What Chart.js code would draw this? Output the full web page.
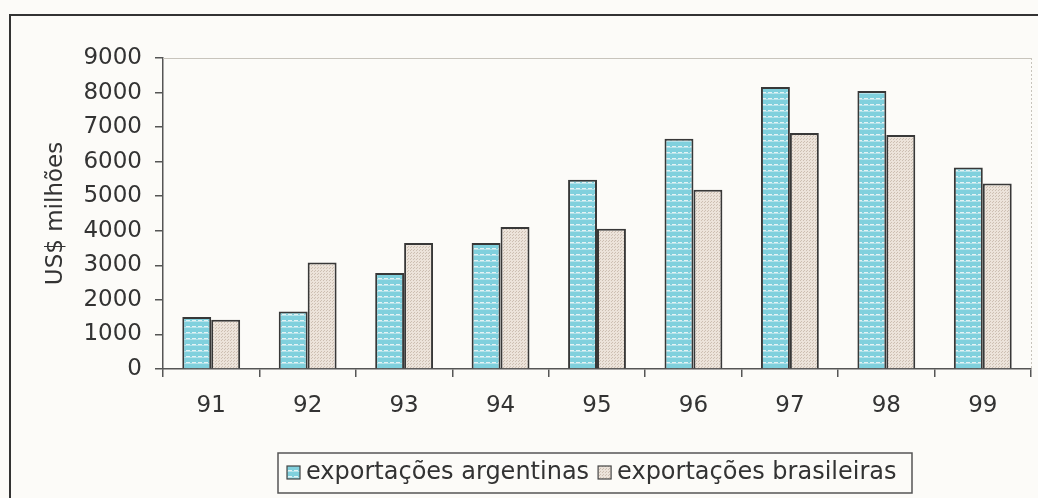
<html><head>
<meta charset="UTF-8">
<title>Exportações</title>
<style>
  body { margin: 0; padding: 0; background: #fcfbf8; }
  canvas { display: block; }
</style>
<script src="https://cdn.jsdelivr.net/npm/chart.js"></script>
</head>
<body>
  <canvas id="exports" width="1038" height="498"></canvas>

  <script>
    // data
    var years = ['91', '92', '93', '94', '95', '96', '97', '98', '99'];
    var argentinas = [1505, 1667, 2778, 3646, 5477, 6664, 8160, 8044, 5833];
    var brasileiras = [1427, 3085, 3646, 4109, 4060, 5188, 6829, 6771, 5370];
    var yTicks = [0, 1000, 2000, 3000, 4000, 5000, 6000, 7000, 8000, 9000];
    var seriesNames = ['exportações argentinas', 'exportações brasileiras'];

    var FONT = '"DejaVu Sans", Arial, sans-serif';

    // striped cyan fill
    function cyanPattern() {
      var c = document.createElement('canvas');
      c.width = 6; c.height = 6;
      var x = c.getContext('2d');
      x.fillStyle = '#80d0dd';
      x.fillRect(0, 0, 6, 6);
      x.fillStyle = '#e4f3f5';
      x.fillRect(0, 2, 4, 1);
      x.fillStyle = '#b4e2ea';
      x.fillRect(0, 3, 6, 1);
      return x.createPattern(c, 'repeat');
    }
    // dotted beige fill
    function beigePattern() {
      var c = document.createElement('canvas');
      c.width = 3; c.height = 3;
      var x = c.getContext('2d');
      x.fillStyle = '#ece3da';
      x.fillRect(0, 0, 3, 3);
      x.fillStyle = '#cdbfb2';
      x.fillRect(0, 0, 1, 1);
      x.fillRect(2, 1, 1, 1);
      return x.createPattern(c, 'repeat');
    }

    var frame = {
      id: 'frame',
      afterDraw: function(chart) {
        var ctx = chart.ctx, a = chart.chartArea;
        ctx.save();
        // outer frame
        ctx.strokeStyle = '#333';
        ctx.lineWidth = 2;
        ctx.beginPath();
        ctx.moveTo(10, 498); ctx.lineTo(10, 15); ctx.lineTo(1038, 15);
        ctx.stroke();
        // plot area top and right
        ctx.strokeStyle = '#c8c4bc';
        ctx.lineWidth = 1;
        ctx.beginPath();
        ctx.moveTo(a.left, a.top + 0.5); ctx.lineTo(a.right, a.top + 0.5);
        ctx.stroke();
        ctx.setLineDash([2, 2]);
        ctx.beginPath();
        ctx.moveTo(a.right + 0.5, a.top); ctx.lineTo(a.right + 0.5, a.bottom);
        ctx.stroke();
        ctx.setLineDash([]);

        // legend box
        ctx.strokeStyle = '#555';
        ctx.lineWidth = 1.5;
        ctx.strokeRect(278, 453, 634, 40);
        ctx.font = '24px ' + FONT;
        ctx.textBaseline = 'middle';
        var x = 287;
        chart.data.datasets.forEach(function(ds) {
          ctx.fillStyle = ds.backgroundColor;
          ctx.fillRect(x, 466, 13, 13);
          ctx.strokeStyle = '#444';
          ctx.lineWidth = 1.2;
          ctx.strokeRect(x, 466, 13, 13);
          ctx.fillStyle = '#333';
          ctx.fillText(ds.label, x + 19, 473);
          x += 19 + ctx.measureText(ds.label).width + 9;
        });
        ctx.restore();
      }
    };

    var ctx = document.getElementById('exports').getContext('2d');
    var chart = new Chart(ctx, {
      type: 'bar',
      data: {
        labels: years,
        datasets: [{
          label: seriesNames[0],
          data: argentinas,
          backgroundColor: cyanPattern(),
          borderColor: '#383838',
          borderWidth: 2
        }, {
          label: seriesNames[1],
          data: brasileiras,
          backgroundColor: beigePattern(),
          borderColor: '#383838',
          borderWidth: 2
        }]
      },
      options: {
        responsive: false,
        animation: false,
        devicePixelRatio: 1,
        layout: { padding: { left: 0, top: 58, right: 7, bottom: 0 } },
        datasets: { bar: { categoryPercentage: 0.6, barPercentage: 1 } },
        plugins: { legend: { display: false }, tooltip: { enabled: false } },
        scales: {
          x: {
            afterFit: function(s) { s.height = 129; },
            grid: { offset: true, drawOnChartArea: false, tickLength: 8, color: '#555', lineWidth: 1.5 },
            border: { color: '#555', width: 1.5 },
            ticks: { color: '#333', padding: 15, autoSkip: false, maxRotation: 0, font: { family: FONT, size: 23 } }
          },
          y: {
            min: 0, max: 9000,
            afterFit: function(s) { s.width = 163; },
            afterBuildTicks: function(s) { s.ticks = yTicks.map(function(v) { return { value: v }; }); },
            grid: { drawOnChartArea: false, tickLength: 8, color: '#555', lineWidth: 1.5 },
            border: { color: '#555', width: 1.5 },
            ticks: {
              color: '#333', padding: 13, font: { family: FONT, size: 23 },
              callback: function(v) { return String(v); }
            },
            title: {
              display: true, text: 'US$ milhões', color: '#333',
              font: { family: FONT, size: 23 }, padding: { top: 42, bottom: 0 }
            }
          }
        }
      },
      plugins: [frame]
    });
  </script>
</body>
</html>
